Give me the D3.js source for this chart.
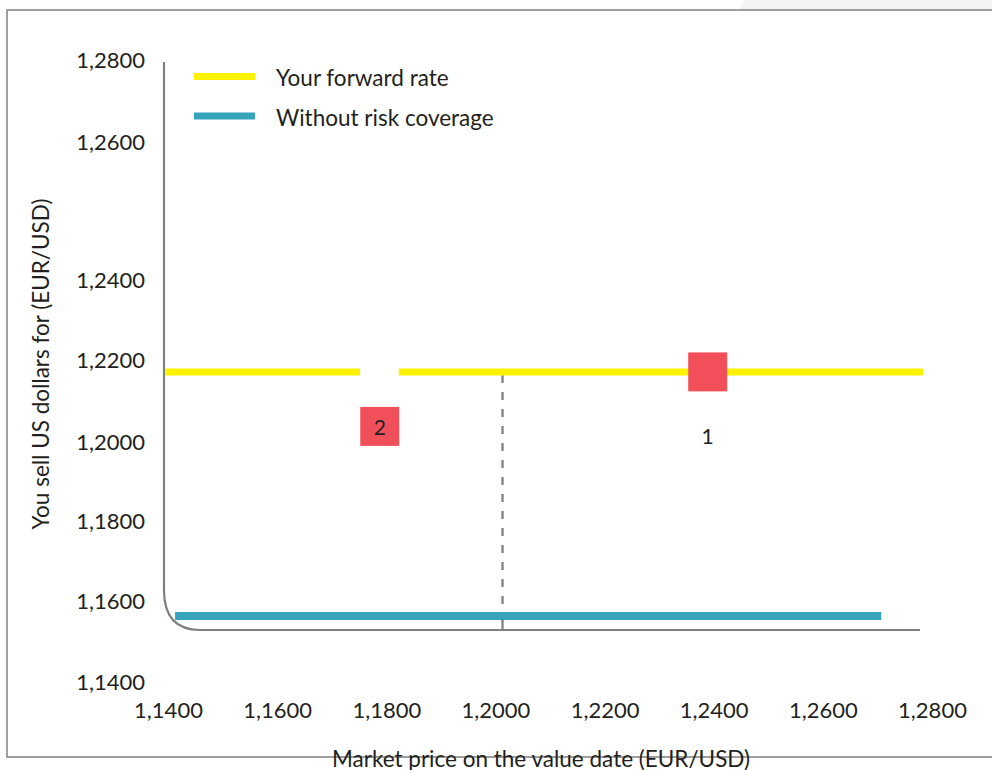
<!DOCTYPE html>
<html>
<head>
<meta charset="utf-8">
<script src="https://cdn.jsdelivr.net/npm/d3@7"></script>
<style>
  html, body { margin: 0; padding: 0; background: #fff; }
  svg { display: block; }
  text { font-family: Lato, "Open Sans", sans-serif; fill: #231f20; }
</style>
</head>
<body>
<svg id="chart" width="992" height="770"></svg>
<script>
// ---- data ----
const xTicks = [1.14, 1.16, 1.18, 1.20, 1.22, 1.24, 1.26, 1.28];
const yTicks = [1.14, 1.16, 1.18, 1.20, 1.22, 1.24, 1.26, 1.28];
const tickLabels = ["1,1400", "1,1600", "1,1800", "1,2000", "1,2200", "1,2400", "1,2600", "1,2800"];
const seriesNames = ["Your forward rate", "Without risk coverage"];
const forwardRate = 1.2171;
const forwardSegments = [[1.1395, 1.1752], [1.1823, 1.2784]];
const unhedgedRate = 1.1563;
const unhedgedRange = [1.1413, 1.2707];
const marketRef = 1.2013;
const markers = [
  { label: "1", x: 1.2389, y: 1.2171, ly: 1.2015 },
  { label: "2", x: 1.1788, y: 1.2038, ly: 1.2038 }
];

// ---- layout ----
const svg = d3.select("#chart");
const colors = { fwd: "#fff200", unh: "#35a3ba", red: "#f1505b", axis: "#808080" };

const x = d3.scaleLinear().domain([1.14, 1.28]).range([168, 932]);
// the original axis has uneven tick spacing; reproduce with a piecewise scale
const y = d3.scaleLinear().domain(yTicks).range([682, 601, 521, 442, 360, 280, 142, 60]);

// background frame
svg.append("path")
  .attr("d", "M744,0 L992,0 L992,10 L740,10 Z")
  .attr("fill", "#f3f3f3");
svg.append("path")
  .attr("d", "M992,10 L7,10 L7,757 L992,757")
  .attr("fill", "none").attr("stroke", colors.axis).attr("stroke-width", 1.5);

// axis frame with rounded corner
const axL = 164, axB = 630, axT = 62, axR = 920, rx = 36, ry = 40;
svg.append("path")
  .attr("d", `M${axL},${axT} L${axL},${axB - ry} Q${axL},${axB} ${axL + rx},${axB} L${axR},${axB}`)
  .attr("fill", "none").attr("stroke", colors.axis).attr("stroke-width", 2.2);

// y tick labels via axis generator
const yAxis = d3.axisLeft(y).tickValues(yTicks).tickSize(0).tickPadding(0)
  .tickFormat((d, i) => tickLabels[i]);
const gy = svg.append("g").attr("transform", "translate(145,0)").call(yAxis);
gy.select(".domain").remove();
gy.selectAll("text").style("font-size", "22px").attr("fill", "#231f20")
  .style("font-family", "Lato, sans-serif");

// x tick labels
const xAxis = d3.axisBottom(x).tickValues(xTicks).tickSize(0).tickPadding(0)
  .tickFormat((d, i) => tickLabels[i]);
const gx = svg.append("g").attr("transform", "translate(0,702)").call(xAxis);
gx.select(".domain").remove();
gx.selectAll("text").style("font-size", "22px").attr("fill", "#231f20")
  .style("font-family", "Lato, sans-serif");

// dashed reference line
svg.append("line")
  .attr("x1", x(marketRef)).attr("x2", x(marketRef))
  .attr("y1", y(forwardRate) + 3).attr("y2", axB)
  .attr("stroke", colors.axis).attr("stroke-width", 2.3)
  .attr("stroke-dasharray", "8,9");

// unhedged line
svg.append("line")
  .attr("x1", x(unhedgedRange[0])).attr("x2", x(unhedgedRange[1]))
  .attr("y1", y(unhedgedRate)).attr("y2", y(unhedgedRate))
  .attr("stroke", colors.unh).attr("stroke-width", 8);

// dashed continuation below the unhedged line
svg.append("line")
  .attr("x1", x(marketRef)).attr("x2", x(marketRef))
  .attr("y1", y(unhedgedRate) + 4).attr("y2", axB)
  .attr("stroke", colors.axis).attr("stroke-width", 2.3);

// forward rate segments
svg.selectAll("line.fwd").data(forwardSegments).enter().append("line")
  .attr("class", "fwd")
  .attr("x1", d => x(d[0])).attr("x2", d => x(d[1]))
  .attr("y1", y(forwardRate)).attr("y2", y(forwardRate))
  .attr("stroke", colors.fwd).attr("stroke-width", 7);

// markers
const sq = 39;
svg.selectAll("rect.mk").data(markers).enter().append("rect")
  .attr("class", "mk")
  .attr("x", d => x(d.x) - sq / 2).attr("y", d => y(d.y) - sq / 2)
  .attr("width", sq).attr("height", sq).attr("fill", colors.red);
svg.selectAll("text.mk").data(markers).enter().append("text")
  .attr("class", "mk")
  .attr("x", d => x(d.x)).attr("y", d => y(d.ly))
  .attr("text-anchor", "middle").attr("dominant-baseline", "central")
  .style("font-size", "21px")
  .text(d => d.label);

// legend
const legend = svg.append("g");
const legendRows = [
  { name: seriesNames[0], color: colors.fwd, y: 76.5 },
  { name: seriesNames[1], color: colors.unh, y: 116 }
];
legend.selectAll("line").data(legendRows).enter().append("line")
  .attr("x1", 194).attr("x2", 255)
  .attr("y1", d => d.y).attr("y2", d => d.y)
  .attr("stroke", d => d.color).attr("stroke-width", 7);
legend.selectAll("text").data(legendRows).enter().append("text")
  .attr("x", 276).attr("y", d => d.y + 1)
  .attr("dominant-baseline", "central")
  .style("font-size", "22.5px")
  .text(d => d.name);

// axis titles
svg.append("text")
  .attr("x", 541).attr("y", 767)
  .attr("text-anchor", "middle")
  .style("font-size", "22.5px")
  .text("Market price on the value date (EUR/USD)");
svg.append("text")
  .attr("transform", "translate(49,364) rotate(-90)")
  .attr("text-anchor", "middle")
  .style("font-size", "22.5px")
  .text("You sell US dollars for (EUR/USD)");
</script>
</body>
</html>
